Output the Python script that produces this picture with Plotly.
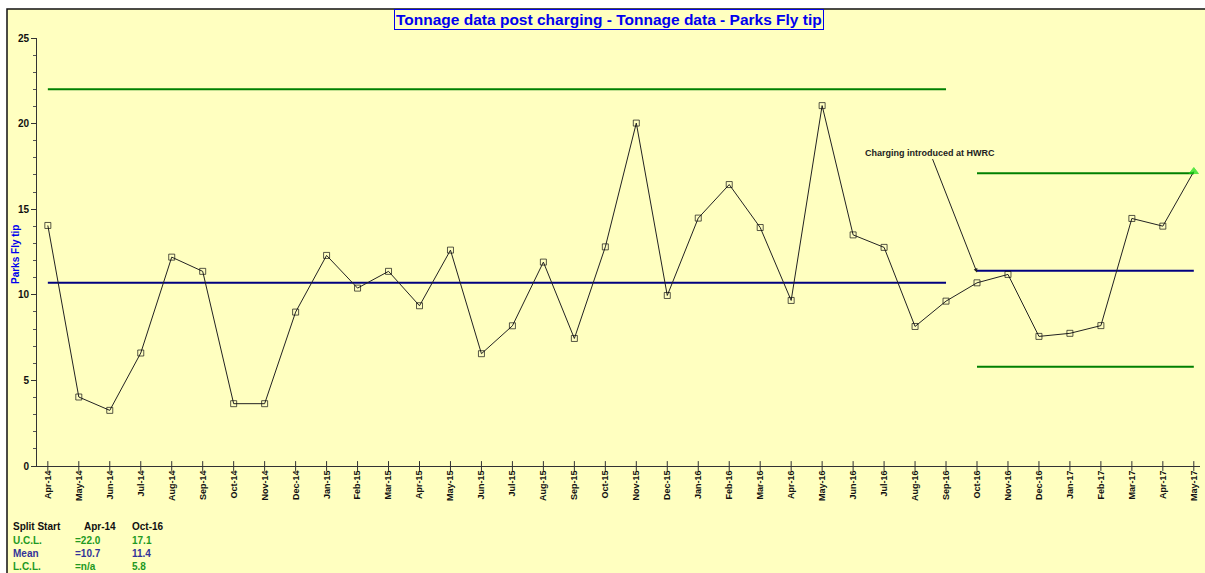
import plotly.graph_objects as go

months = ["Apr-14", "May-14", "Jun-14", "Jul-14", "Aug-14", "Sep-14", "Oct-14", "Nov-14",
          "Dec-14", "Jan-15", "Feb-15", "Mar-15", "Apr-15", "May-15", "Jun-15", "Jul-15",
          "Aug-15", "Sep-15", "Oct-15", "Nov-15", "Dec-15", "Jan-16", "Feb-16", "Mar-16",
          "Apr-16", "May-16", "Jun-16", "Jul-16", "Aug-16", "Sep-16", "Oct-16", "Nov-16",
          "Dec-16", "Jan-17", "Feb-17", "Mar-17", "Apr-17", "May-17"]
tonnage = [14.05, 4.03, 3.25, 6.6, 12.2, 11.37, 3.64, 3.64,
           8.99, 12.3, 10.39, 11.37, 9.36, 12.61, 6.56, 8.19,
           11.91, 7.45, 12.8, 20.03, 9.96, 14.48, 16.44, 13.93,
           9.67, 21.05, 13.5, 12.77, 8.15, 9.63, 10.7, 11.19,
           7.57, 7.75, 8.2, 14.46, 14.01, 17.2]

split_starts = ["Apr-14", "Oct-16"]
ucl = [22.0, 17.1]
mean = [10.7, 11.4]
lcl = [None, 5.8]

FONT = "Arial, Liberation Sans, sans-serif"
BG = "#FFFFC0"
GREEN = "#008000"
NAVY = "#000080"

split_idx = months.index(split_starts[1])
segments = [months[:split_idx], months[split_idx:]]

fig = go.Figure()

# Control limit lines per segment
for i, seg in enumerate(segments):
    fig.add_trace(go.Scatter(x=seg, y=[ucl[i]] * len(seg), mode="lines",
                             line=dict(color=GREEN, width=2), hoverinfo="skip", showlegend=False))
    fig.add_trace(go.Scatter(x=seg, y=[mean[i]] * len(seg), mode="lines",
                             line=dict(color=NAVY, width=2), hoverinfo="skip", showlegend=False))
    if lcl[i] is not None:
        fig.add_trace(go.Scatter(x=seg, y=[lcl[i]] * len(seg), mode="lines",
                                 line=dict(color=GREEN, width=2), hoverinfo="skip", showlegend=False))

# Crossing x-axis tick marks
fig.add_trace(go.Scatter(x=months, y=[0] * len(months), mode="markers",
                         marker=dict(symbol="line-ns", size=7, line=dict(color="#333333", width=1)),
                         cliponaxis=False, hoverinfo="skip", showlegend=False))

# Data series
symbols = ["square-open"] * (len(months) - 1) + ["triangle-up"]
colors = ["#111111"] * (len(months) - 1) + ["#11DD11"]
sizes = [6] * (len(months) - 1) + [8]
fig.add_trace(go.Scatter(x=months, y=tonnage, mode="lines+markers",
                         line=dict(color="#222222", width=1),
                         marker=dict(symbol=symbols, color=colors, size=sizes,
                                     line=dict(width=1, color=colors)),
                         cliponaxis=False, showlegend=False))

L, R, T, B = 37, 5, 38, 107
W, H = 1205, 573
pw, ph = W - L - R, H - T - B


def px(x):
    return (x - L) / pw


def py(y):
    return (H - B - y) / ph


annotations = []
# Title
annotations.append(dict(text="<b>Tonnage data post charging - Tonnage data - Parks Fly tip</b>",
                        xref="paper", yref="paper", x=px(609), y=py(20), xanchor="center",
                        yanchor="middle", showarrow=False,
                        font=dict(family=FONT, size=15.5, color="#0000EE"),
                        bordercolor="#0000EE", borderwidth=1, borderpad=1, bgcolor=BG))
# Y axis title
annotations.append(dict(text="<b>Parks Fly tip</b>", xref="paper", yref="paper",
                        x=px(15), y=py(255), textangle=-90, showarrow=False,
                        xanchor="center", yanchor="middle",
                        font=dict(family=FONT, size=10, color="#0000EE")))
# Event annotation
annotations.append(dict(text="<b>Charging introduced at HWRC</b>", x=split_starts[1], y=11.3,
                        xref="x", yref="y", ax=-47, ay=-120, showarrow=True,
                        arrowhead=2, arrowsize=0.8, arrowwidth=1, arrowcolor="#222222",
                        font=dict(family=FONT, size=9, color="#222222")))

# Bottom table
rows = [
    ("Split Start", "#111111", split_starts[0], split_starts[1]),
    ("U.C.L.", "#229922", "=%.1f" % ucl[0], "%.1f" % ucl[1]),
    ("Mean", "#333399", "=%.1f" % mean[0], "%.1f" % mean[1]),
    ("L.C.L.", "#229922", "=n/a" if lcl[0] is None else "=%.1f" % lcl[0], "%.1f" % lcl[1]),
]
row_y = [526, 540, 553, 566]
for (label, col, v1, v2), yy in zip(rows, row_y):
    c1x = 82 if label == "Split Start" else 73
    for txt, xx in ((label, 11), (v1, c1x), (v2, 130)):
        annotations.append(dict(text="<b>%s</b>" % txt, xref="paper", yref="paper",
                                x=px(xx), y=py(yy), xanchor="left", yanchor="middle",
                                showarrow=False, font=dict(family=FONT, size=10, color=col)))

shapes = [dict(type="rect", xref="paper", yref="paper", layer="below",
               x0=px(7), x1=px(1230), y0=py(600), y1=py(9),
               fillcolor=BG, line=dict(color="#111111", width=1.5))]

fig.update_layout(
    width=W, height=H,
    margin=dict(l=L, r=R, t=T, b=B, autoexpand=False),
    paper_bgcolor="white", plot_bgcolor="rgba(0,0,0,0)",
    font=dict(family=FONT, color="#111111"),
    showlegend=False,
    annotations=annotations,
    shapes=shapes,
    xaxis=dict(type="category", categoryorder="array", categoryarray=months,
               range=[-0.35, len(months) - 0.8], showgrid=False, zeroline=False,
               showline=True, linecolor="#333333", linewidth=1, ticks="",
               tickangle=-90, tickfont=dict(family=FONT, size=9, color="#111111"),
               tickprefix="<b>", ticksuffix="</b>", fixedrange=True),
    yaxis=dict(range=[0, 25], dtick=5, showgrid=False, zeroline=False,
               showline=True, linecolor="#333333", linewidth=1,
               ticks="outside", ticklen=5, tickcolor="#333333",
               minor=dict(dtick=1, ticks="outside", ticklen=3, tickcolor="#555555"),
               tickfont=dict(family=FONT, size=10, color="#111111"),
               tickprefix="<b>", ticksuffix="</b>", fixedrange=True),
)

fig.write_html("out.html", config={"displayModeBar": False},
               post_script="document.body.style.margin='0';document.body.style.overflow='hidden';")
